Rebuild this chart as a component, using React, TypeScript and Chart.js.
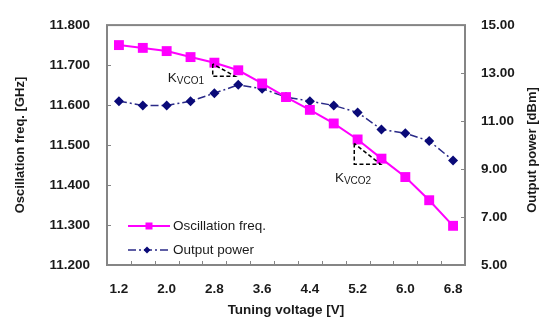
import React, { useEffect, useRef } from "react";
import { Chart, registerables } from "chart.js";

Chart.register(...registerables);

const voltages = ["1.2", "1.6", "2.0", "2.4", "2.8", "3.2", "3.6", "4.0", "4.4", "4.8", "5.2", "5.6", "6.0", "6.4", "6.8"];
const oscFreq = [11.750, 11.743, 11.735, 11.720, 11.706, 11.687, 11.654, 11.620, 11.588, 11.554, 11.514, 11.466, 11.420, 11.362, 11.298];
const outPower = [11.83, 11.65, 11.65, 11.83, 12.16, 12.51, 12.35, 12.0, 11.83, 11.65, 11.36, 10.65, 10.49, 10.17, 9.36];

const FREQ_LABEL = "Oscillation freq.";
const POWER_LABEL = "Output power";
const X_TITLE = "Tuning voltage [V]";
const Y_TITLE = "Oscillation freq. [GHz]";
const Y2_TITLE = "Output power [dBm]";

const PINK = "#ff00ff";
const NAVY = "#0a0a78";
const NAVY_LINE = "#2a2a88";
const AXIS = "#858585";
const TEXT = "#1a1a1a";
const FONT = "'Liberation Sans', Arial, sans-serif";
const DASHDOT = [8, 3, 2, 3];

const decor = {
  id: "decor",
  afterDraw(chart: any) {
    const { ctx, chartArea: a, scales } = chart;
    const x = scales.x, y = scales.y, y1 = scales.y1;
    ctx.save();
    // frame
    ctx.strokeStyle = AXIS;
    ctx.lineWidth = 2;
    ctx.strokeRect(a.left, a.top, a.right - a.left, a.bottom - a.top);
    // inside tick marks
    ctx.lineWidth = 1;
    ctx.beginPath();
    y.ticks.forEach((t: any) => {
      const py = Math.round(y.getPixelForValue(t.value)) + 0.5;
      ctx.moveTo(a.left, py); ctx.lineTo(a.left + 4, py);
    });
    y1.ticks.forEach((t: any) => {
      const py = Math.round(y1.getPixelForValue(t.value)) + 0.5;
      ctx.moveTo(a.right, py); ctx.lineTo(a.right - 4, py);
    });
    for (let i = 0; i <= voltages.length; i++) {
      const px = Math.round(x.getPixelForValue(i - 0.5)) + 0.5;
      ctx.moveTo(px, a.bottom); ctx.lineTo(px, a.bottom - 4);
    }
    ctx.stroke();

    // Kvco triangles (data coordinates)
    const tri = (x0: number, yTop: number, yBot: number, x1: number) => {
      const ax = x.getPixelForValue(x0), ay = y.getPixelForValue(yTop);
      const by = y.getPixelForValue(yBot), bx = x.getPixelForValue(x1);
      ctx.save();
      ctx.strokeStyle = "#000";
      ctx.lineWidth = 1.5;
      ctx.setLineDash([4, 2.5]);
      ctx.beginPath();
      ctx.moveTo(ax, ay); ctx.lineTo(ax, by); ctx.lineTo(bx, by); ctx.lineTo(ax, ay);
      ctx.stroke();
      ctx.restore();
    };
    tri(3.93, 11.703, 11.672, 4.86);
    tri(9.86, 11.504, 11.452, 10.96);
    const kLabel = (xi: number, yv: number, sub: string) => {
      const px = x.getPixelForValue(xi), py = y.getPixelForValue(yv);
      ctx.fillStyle = TEXT;
      ctx.textBaseline = "middle";
      ctx.textAlign = "left";
      ctx.font = `13.5px ${FONT}`;
      ctx.fillText("K", px, py);
      const w = ctx.measureText("K").width;
      ctx.font = `10px ${FONT}`;
      ctx.fillText(sub, px + w, py + 3);
    };
    kLabel(2.05, 11.668, "VCO1");
    kLabel(9.05, 11.416, "VCO2");

    // legend
    const lx0 = 128, lx1 = 170, tx = 173;
    const ly1 = 226, ly2 = 250;
    ctx.strokeStyle = PINK;
    ctx.lineWidth = 2;
    ctx.beginPath(); ctx.moveTo(lx0, ly1); ctx.lineTo(lx1, ly1); ctx.stroke();
    ctx.fillStyle = PINK;
    ctx.fillRect(149 - 3.5, ly1 - 3.5, 7, 7);
    ctx.save();
    ctx.strokeStyle = NAVY_LINE;
    ctx.lineWidth = 1.5;
    ctx.setLineDash(DASHDOT);
    ctx.beginPath(); ctx.moveTo(lx0, ly2); ctx.lineTo(lx1, ly2); ctx.stroke();
    ctx.restore();
    ctx.fillStyle = NAVY;
    ctx.beginPath();
    ctx.moveTo(147, ly2 - 3.5); ctx.lineTo(150.5, ly2); ctx.lineTo(147, ly2 + 3.5); ctx.lineTo(143.5, ly2);
    ctx.closePath(); ctx.fill();
    ctx.fillStyle = TEXT;
    ctx.font = `13.5px ${FONT}`;
    ctx.textAlign = "left";
    ctx.textBaseline = "middle";
    ctx.fillText(FREQ_LABEL, tx, ly1);
    ctx.fillText(POWER_LABEL, tx, ly2);

    // right axis title (reads bottom-to-top)
    ctx.save();
    ctx.translate(532, (a.top + a.bottom) / 2 + 5);
    ctx.rotate(-Math.PI / 2);
    ctx.font = `bold 13px ${FONT}`;
    ctx.textAlign = "center";
    ctx.textBaseline = "middle";
    ctx.fillText(Y2_TITLE, 0, 0);
    ctx.restore();

    ctx.restore();
  },
};

export default function App() {
  const ref = useRef<HTMLCanvasElement | null>(null);
  useEffect(() => {
    if (!ref.current) return;
    const tickFont = { family: FONT, size: 13.5, weight: "bold" as const };
    const chart = new Chart(ref.current, {
      type: "line",
      data: {
        labels: voltages,
        datasets: [
          {
            label: FREQ_LABEL,
            data: oscFreq,
            yAxisID: "y",
            borderColor: PINK,
            backgroundColor: PINK,
            borderWidth: 2,
            pointStyle: "rect",
            pointRadius: 7,
            pointBorderWidth: 0,
            pointBackgroundColor: PINK,
            tension: 0,
          },
          {
            label: POWER_LABEL,
            data: outPower,
            yAxisID: "y1",
            borderColor: NAVY_LINE,
            backgroundColor: NAVY,
            borderWidth: 1.5,
            borderDash: DASHDOT,
            pointStyle: "rectRot",
            pointRadius: 5,
            pointBorderWidth: 0,
            pointBackgroundColor: NAVY,
            tension: 0,
          },
        ],
      },
      options: {
        responsive: false,
        animation: false,
        layout: { padding: { top: 15, left: 0, right: 0, bottom: 0 } },
        plugins: { legend: { display: false }, tooltip: { enabled: false } },
        scales: {
          x: {
            type: "category",
            offset: true,
            grid: { display: false, offset: true, drawTicks: false },
            border: { display: false },
            ticks: {
              autoSkip: false,
              maxRotation: 0,
              color: TEXT,
              font: tickFont,
              padding: 16,
              callback: (_v: any, i: number) => (i % 2 === 0 ? voltages[i] : ""),
            },
            title: {
              display: true,
              text: X_TITLE,
              color: TEXT,
              font: { family: FONT, size: 13.5, weight: "bold" },
              padding: { top: 0, bottom: 4 },
            },
            afterFit: (s: any) => { s.height = 57; },
          },
          y: {
            position: "left",
            min: 11.2,
            max: 11.8,
            grid: { display: false, drawTicks: false },
            border: { display: false },
            ticks: {
              stepSize: 0.1,
              color: TEXT,
              font: tickFont,
              padding: 17,
              callback: (v: any) => Number(v).toFixed(3),
            },
            title: {
              display: true,
              text: Y_TITLE,
              color: TEXT,
              font: { family: FONT, size: 13, weight: "bold" },
              padding: { top: 13, bottom: 0 },
            },
            afterFit: (s: any) => { s.width = 107; },
          },
          y1: {
            position: "right",
            min: 5,
            max: 15,
            grid: { display: false, drawTicks: false },
            border: { display: false },
            ticks: {
              stepSize: 2,
              color: TEXT,
              font: tickFont,
              padding: 16,
              callback: (v: any) => Number(v).toFixed(2),
            },
            afterFit: (s: any) => { s.width = 84; },
          },
        },
      },
      plugins: [decor],
    });
    return () => chart.destroy();
  }, []);
  return (
    <div style={{ position: "fixed", left: 0, top: 0, width: 549, height: 322, background: "#fff" }}>
      <canvas ref={ref} width={549} height={322} />
    </div>
  );
}
